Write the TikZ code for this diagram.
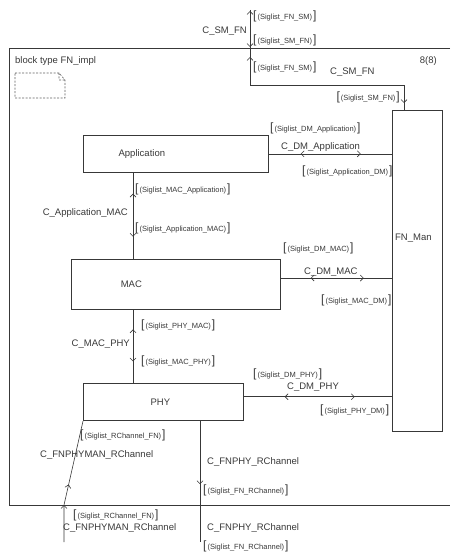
\documentclass[tikz,border=0pt]{standalone}
\usepackage{fontspec}
\setmainfont{Liberation Sans}
\usetikzlibrary{arrows.meta, positioning, decorations.markings}
\colorlet{ink}{black!78}
\newcommand{\siglist}[1]{{\fontsize{12}{12}\selectfont[}\kern1pt{\fontsize{7.5}{9}\selectfont(#1)}\kern1pt{\fontsize{12}{12}\selectfont]}}

\begin{document}
\begin{tikzpicture}[x=1pt, y=-1pt,
  blk/.style={draw=ink, line width=0.7pt, inner sep=0pt},
  chan/.style={draw=ink, line width=0.6pt},
  chev/.tip={Straight Barb[length=3pt, width=6pt, line width=0.6pt]},
  fwd/.style={postaction={decorate, decoration={markings, mark=at position #1 with {\arrow{chev}}}}},
  rev/.style={postaction={decorate, decoration={markings, mark=at position #1 with {\arrowreversed{chev}}}}},
  cname/.style={inner sep=0pt, text=ink, font=\fontsize{9.5}{11}\selectfont},
  sig/.style={inner sep=0pt, text=ink},
  every label/.style={text=ink, font=\fontsize{9.5}{11}\selectfont}]
  \useasboundingbox (0,0) rectangle (450,553);
  % frame of the block
  \coordinate (ftl) at (9,48);
  \coordinate (fbl) at (9,505);
  \draw[ink, line width=0.7pt] (450,48) -- (ftl) -- (fbl) -- (450,505);
  \node[cname, anchor=west] (title) at (15,61) {block type FN\_impl};
  \node[cname, anchor=east] (page) at (437,61) {8(8)};
  \draw[ink!80, line width=0.6pt, dash pattern=on 2pt off 1.5pt]
    (15,73) -- (59,73) -- (65,80) -- (65,98) -- (15,98) -- cycle
    (59,73) -- (59,80) -- (65,80);
  % blocks
  \node[blk, minimum width=185pt, minimum height=37pt, anchor=north west,
    label={[xshift=-34pt]center:Application}] (app) at (83,135) {};
  \node[blk, minimum width=209pt, minimum height=50pt, below=86pt of app,
    label={[xshift=-44.5pt]center:MAC}] (mac) {};
  \node[blk, minimum width=160pt, minimum height=37pt, below=74pt of mac, xshift=-12.5pt,
    label={[xshift=-3pt]center:PHY}] (phy) {};
  \node[blk, minimum width=50pt, minimum height=321pt, anchor=north west,
    label={[xshift=-4pt, yshift=33pt]center:FN\_Man}] (man) at (392,110) {};
  % C_SM_FN
  \coordinate (smtop) at (250,10);
  \coordinate (smbend) at (250,85);
  \coordinate (smin) at ([xshift=12pt]man.north west);
  \draw[chan, rev=1pt, fwd=37pt, rev=47pt, fwd=-7pt] (smtop) -- (smbend) -| (smin);
  \node[cname, anchor=east] (smname) at (247,31) {C\_SM\_FN};
  \node[sig, anchor=west] (smout1) at (253,16) {\siglist{Siglist\_FN\_SM}};
  \node[sig, anchor=west] (smout2) at (253,40) {\siglist{Siglist\_SM\_FN}};
  \node[sig, anchor=west] (smin1) at (253,67) {\siglist{Siglist\_FN\_SM}};
  \node[cname, anchor=west] (smname2) at (330,72) {C\_SM\_FN};
  \node[sig, anchor=east] (smin2) at (400,97) {\siglist{Siglist\_SM\_FN}};
  % C_DM_Application
  \draw[chan, rev=32pt, fwd=92pt] (app.east) -- (app.east -| man.west);
  \node[sig, anchor=west] (dma1) at (270,128) {\siglist{Siglist\_DM\_Application}};
  \node[cname, anchor=west] (dmaname) at (281,147) {C\_DM\_Application};
  \node[sig, anchor=west] (dma2) at (302,171) {\siglist{Siglist\_Application\_DM}};
  % C_Application_MAC
  \coordinate (amtop) at ([xshift=50pt]app.south west);
  \draw[chan, rev=21pt, fwd=64pt] (amtop) -- (amtop |- mac.north);
  \node[sig, anchor=west] (am1) at (135,189) {\siglist{Siglist\_MAC\_Application}};
  \node[cname, anchor=east] (amname) at (128,213) {C\_Application\_MAC};
  \node[sig, anchor=west] (am2) at (135,228) {\siglist{Siglist\_Application\_MAC}};
  % C_DM_MAC
  \coordinate (dmm) at ([yshift=6pt]mac.east);
  \draw[chan, rev=30pt, fwd=83pt] (dmm) -- (dmm -| man.west);
  \node[sig, anchor=west] (dmm1) at (283,248) {\siglist{Siglist\_DM\_MAC}};
  \node[cname, anchor=west] (dmmname) at (304,272) {C\_DM\_MAC};
  \node[sig, anchor=west] (dmm2) at (321,300) {\siglist{Siglist\_MAC\_DM}};
  % C_MAC_PHY
  \coordinate (mptop) at ([xshift=62pt]mac.south west);
  \draw[chan, rev=20pt, fwd=52pt] (mptop) -- (mptop |- phy.north);
  \node[sig, anchor=west] (mp1) at (141,325) {\siglist{Siglist\_PHY\_MAC}};
  \node[cname, anchor=east] (mpname) at (130,344) {C\_MAC\_PHY};
  \node[sig, anchor=west] (mp2) at (141,361) {\siglist{Siglist\_MAC\_PHY}};
  % C_DM_PHY
  \coordinate (dmp) at ([yshift=5.5pt]phy.east);
  \draw[chan, rev=41pt, fwd=111pt] (dmp) -- (dmp -| man.west);
  \node[sig, anchor=west] (dmp1) at (253,374) {\siglist{Siglist\_DM\_PHY}};
  \node[cname, anchor=west] (dmpname) at (287,387) {C\_DM\_PHY};
  \node[sig, anchor=west] (dmp2) at (320,410) {\siglist{Siglist\_PHY\_DM}};
  % C_FNPHY_RChannel
  \coordinate (rctop) at ([xshift=117pt]phy.south west);
  \coordinate (rcbot) at (200,542);
  \draw[chan, fwd=63pt, fwd=122pt] (rctop) -- (rcbot);
  \node[cname, anchor=west] (rcname1) at (207,462) {C\_FNPHY\_RChannel};
  \node[sig, anchor=west] (rc1) at (203,490) {\siglist{Siglist\_FN\_RChannel}};
  \node[cname, anchor=west] (rcname2) at (207,528) {C\_FNPHY\_RChannel};
  \node[sig, anchor=west] (rc2) at (203,546) {\siglist{Siglist\_FN\_RChannel}};
  % C_FNPHYMAN_RChannel
  \coordinate (rmbot) at (64,542);
  \coordinate (rmframe) at (64,505);
  \draw[chan, fwd=37pt, fwd=58pt] (rmbot) -- (rmframe) -- (phy.south west);
  \node[sig, anchor=west] (rm1) at (80,435) {\siglist{Siglist\_RChannel\_FN}};
  \node[cname, anchor=west] (rmname1) at (40,455) {C\_FNPHYMAN\_RChannel};
  \node[sig, anchor=west] (rm2) at (73,515) {\siglist{Siglist\_RChannel\_FN}};
  \node[cname, anchor=west] (rmname2) at (63,528) {C\_FNPHYMAN\_RChannel};
\end{tikzpicture}
\end{document}
